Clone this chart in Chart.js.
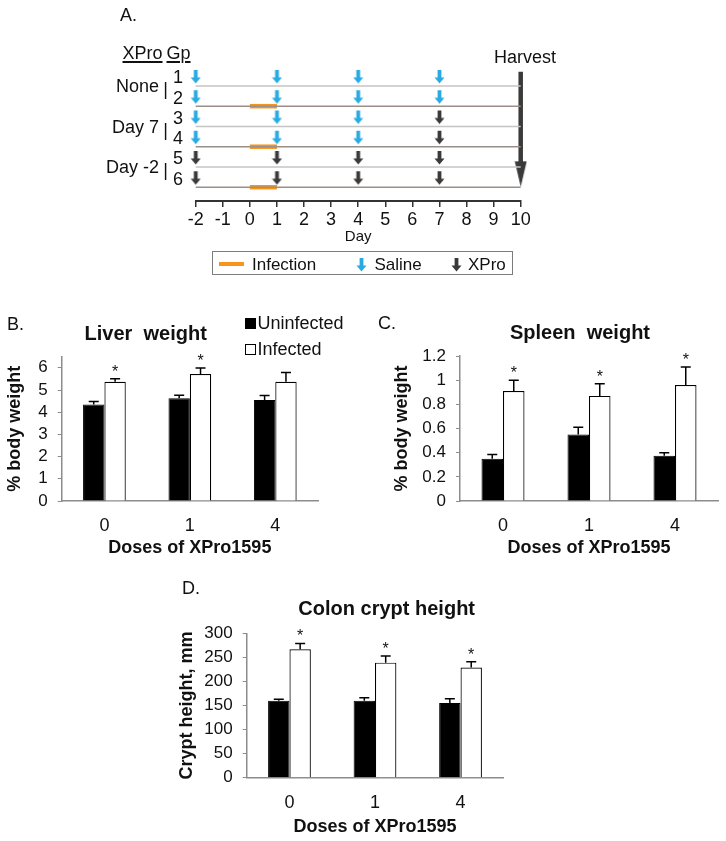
<!DOCTYPE html>
<html><head><meta charset="utf-8">
<script src="https://cdn.jsdelivr.net/npm/chart.js@4.4.1/dist/chart.umd.min.js"></script>
<style>
html,body{margin:0;padding:0;background:#fff;}
#wrap{position:relative;width:726px;height:841px;overflow:hidden;font-family:"Liberation Sans",Arial,Helvetica,sans-serif;color:#111;}
canvas{position:absolute;}
.t{position:absolute;white-space:pre;line-height:1;}
</style></head><body><div id="wrap">
<canvas id="cA" width="726" height="290" style="left:0;top:0;width:726px;height:290px"></canvas>
<canvas id="cB" width="370" height="260" style="left:0;top:300px;width:370px;height:260px"></canvas>
<canvas id="cC" width="356" height="260" style="left:370px;top:300px;width:356px;height:260px"></canvas>
<canvas id="cD" width="340" height="281" style="left:170px;top:560px;width:340px;height:281px"></canvas>
</div>
<script>
// ---------- DATA ----------
const dayTicks = [-2,-1,0,1,2,3,4,5,6,7,8,9,10];
const groupRows = ['1','2','3','4','5','6'];
const groupNames = ['None','Day 7','Day -2'];
const salineDays = [[-2,1,4,7],[-2,1,4,7],[-2,1,4],[-2,1,4],[],[]];
const xproDays   = [[],[],[7],[7],[-2,1,4,7],[-2,1,4,7]];
const infectedRows = [2,4,6];
const infectionPeriod = [0,1];
const harvestDay = 10;

const doses = ['0','1','4'];
const seriesNames = ['Uninfected','Infected'];

const liverUninfected    = [4.35, 4.63, 4.55];
const liverUninfectedErr = [0.13, 0.13, 0.20];
const liverInfected      = [5.37, 5.72, 5.37];
const liverInfectedErr   = [0.14, 0.27, 0.42];
const liverSignificant   = [true, true, false];

const spleenUninfected    = [0.35, 0.55, 0.375];
const spleenUninfectedErr = [0.035, 0.06, 0.025];
const spleenInfected      = [0.91, 0.87, 0.96];
const spleenInfectedErr   = [0.09, 0.10, 0.15];
const spleenSignificant   = [true, true, true];

const cryptUninfected    = [160, 160, 155];
const cryptUninfectedErr = [3, 6, 9];
const cryptInfected      = [267, 239, 229];
const cryptInfectedErr   = [12, 14, 12];
const cryptSignificant   = [true, true, true];

// ---------- helpers ----------
const FONT = '"Liberation Sans", Arial, Helvetica, sans-serif';
Chart.defaults.font.family = FONT;
Chart.defaults.color = '#111';
const wrap = document.getElementById('wrap');
function addText(text, x, y, o) {
  o = o || {};
  const d = document.createElement('div');
  d.className = 't';
  d.textContent = text;
  d.style.left = x + 'px';
  d.style.top = y + 'px';
  d.style.fontSize = (o.size || 18) + 'px';
  if (o.bold) d.style.fontWeight = 'bold';
  if (o.underline) { d.style.textDecoration = 'underline'; d.style.textDecorationThickness = '1.5px'; d.style.textUnderlineOffset = '2px'; }
  const tx = o.align === 'center' ? '-50%' : (o.align === 'right' ? '-100%' : '0');
  d.style.transform = 'translate(' + tx + ',-50%)';
  wrap.appendChild(d);
  return d;
}
function arrowCanvas(color) {
  const c = document.createElement('canvas'); c.width = 11; c.height = 34;
  const g = c.getContext('2d'); g.fillStyle = color;
  g.fillRect(3.6, 1, 3.8, 8);
  g.beginPath(); g.moveTo(0.5, 8.5); g.lineTo(10.5, 8.5); g.lineTo(5.5, 14.5); g.closePath(); g.fill();
  return c;
}
function headCanvas(color) {
  const c = document.createElement('canvas'); c.width = 13; c.height = 52;
  const g = c.getContext('2d'); g.fillStyle = color;
  g.beginPath(); g.moveTo(0.5, 0.5); g.lineTo(12.5, 0.5); g.lineTo(6.5, 26); g.closePath(); g.fill();
  return c;
}
const SALINE = '#29abe2', XPRO = '#3a3a3a', ORANGE = '#f7941d';

// ---------- Panel A ----------
const dsA = [];
groupRows.forEach((g, i) => {
  const r = i + 1;
  dsA.push({ data: [{x: dayTicks[0], y: r}, {x: harvestDay, y: r}], showLine: true,
    borderColor: (r % 2 === 0) ? '#9b8f8a' : '#c4c4c4', borderWidth: 1.4, pointRadius: 0, clip: false });
});
infectedRows.forEach(r => {
  dsA.push({ data: [{x: infectionPeriod[0], y: r}, {x: infectionPeriod[1], y: r}], showLine: true,
    borderColor: ORANGE, borderWidth: 4.5, borderCapStyle: 'butt', pointRadius: 0, clip: false });
});
const salinePts = [], xproPts = [];
salineDays.forEach((ds, i) => ds.forEach(d => salinePts.push({x: d, y: i + 1})));
xproDays.forEach((ds, i) => ds.forEach(d => xproPts.push({x: d, y: i + 1})));
dsA.push({ data: salinePts, pointStyle: arrowCanvas(SALINE), pointRadius: 6, showLine: false, clip: false });
dsA.push({ data: xproPts, pointStyle: arrowCanvas(XPRO), pointRadius: 6, showLine: false, clip: false });
dsA.push({ data: [{x: harvestDay, y: 0.297}, {x: harvestDay, y: 4.76}], showLine: true,
  borderColor: XPRO, borderWidth: 4.5, borderCapStyle: 'butt', pointRadius: 0, clip: false });
dsA.push({ data: [{x: harvestDay, y: 5.974}], pointStyle: headCanvas(XPRO), pointRadius: 6, showLine: false, clip: false });

const chartA = new Chart(document.getElementById('cA'), {
  type: 'scatter',
  data: { datasets: dsA },
  options: {
    responsive: false, animation: false, events: [], devicePixelRatio: 1,
    layout: { padding: { left: 195.7, right: 205.3, top: 60, bottom: 0 } },
    plugins: { legend: { display: false }, tooltip: { enabled: false } },
    scales: {
      x: { type: 'linear', min: dayTicks[0], max: dayTicks[dayTicks.length - 1],
        afterBuildTicks(s) { s.ticks = dayTicks.map(v => ({ value: v })); },
        ticks: { stepSize: 1, font: { size: 18 }, color: '#111', padding: 2 },
        grid: { drawOnChartArea: false, drawTicks: true, tickLength: 6, color: '#333', lineWidth: 1.5 },
        border: { color: '#333', width: 2 },
        title: { display: true, text: 'Day', font: { size: 15 }, color: '#111', padding: { top: 0, bottom: 43.7 } },
        afterFit(s) { s.height = 89; } },
      y: { type: 'linear', display: false, min: -0.28, max: 6.68, reverse: true }
    }
  }
});

// Panel A texts
addText('A.', 120, 15, { size: 18 });
addText('XPro', 122.5, 52.5, { size: 18, underline: true });
addText('Gp', 166.5, 52.5, { size: 18, underline: true });
addText('Harvest', 494, 57.3, { size: 18 });
const yA = chartA.scales.y;
groupRows.forEach((g, i) => addText(g, 178, yA.getPixelForValue(i + 1) - 8.5, { size: 18, align: 'center' }));
groupNames.forEach((n, k) => {
  const yy = yA.getPixelForValue(2 * k + 1) + 0.5;
  addText(n, 159, yy, { size: 18, align: 'right' });
  addText('|', 165.5, yy + 3, { size: 18, align: 'center' });
});
// legend box
const lg = document.createElement('div');
lg.style.cssText = 'position:absolute;left:212px;top:250.5px;width:299px;height:22.5px;border:1.5px solid #7d7d7d;';
wrap.appendChild(lg);
const ol = document.createElement('div');
ol.style.cssText = 'position:absolute;left:218.5px;top:262.3px;width:25.5px;height:4.2px;background:' + ORANGE + ';';
wrap.appendChild(ol);
addText('Infection', 252, 264, { size: 17 });
function legendArrow(color, x) {
  const c = arrowCanvas(color);
  c.style.left = (x - 5.5) + 'px'; c.style.top = (271.5 - 14.5) + 'px';
  c.style.width = '11px'; c.style.height = '34px';
  wrap.appendChild(c);
}
legendArrow(SALINE, 361.5);
addText('Saline', 374.5, 264, { size: 17 });
legendArrow(XPRO, 456);
addText('XPro', 468, 264, { size: 17 });

// ---------- Bar panels ----------
const errorBars = {
  id: 'errorBars',
  afterDatasetsDraw(chart) {
    const ctx = chart.ctx, y = chart.scales.y;
    ctx.save();
    ctx.strokeStyle = '#000'; ctx.lineWidth = 1.5; ctx.fillStyle = '#111';
    ctx.font = '16px ' + FONT; ctx.textAlign = 'center'; ctx.textBaseline = 'alphabetic';
    chart.data.datasets.forEach((ds, i) => {
      const meta = chart.getDatasetMeta(i);
      meta.data.forEach((bar, j) => {
        const v = ds.data[j], e = ds.errors[j];
        const top = y.getPixelForValue(v + e), base = y.getPixelForValue(v);
        ctx.beginPath();
        ctx.moveTo(bar.x, base); ctx.lineTo(bar.x, top);
        ctx.moveTo(bar.x - 5, top); ctx.lineTo(bar.x + 5, top);
        ctx.stroke();
        if (ds.sig && ds.sig[j]) ctx.fillText('*', bar.x, top - 2);
      });
    });
    ctx.restore();
  }
};
function barChart(id, p) {
  return new Chart(document.getElementById(id), {
    type: 'bar',
    data: { labels: doses, datasets: [
      { label: seriesNames[0], data: p.u, errors: p.ue, backgroundColor: '#000', borderColor: '#000', borderWidth: 1,
        categoryPercentage: 0.5, barPercentage: 1 },
      { label: seriesNames[1], data: p.i, errors: p.ie, sig: p.sig, backgroundColor: '#fff', borderColor: '#000', borderWidth: 1.2,
        categoryPercentage: 0.5, barPercentage: 1 }
    ]},
    options: {
      responsive: false, animation: false, events: [], devicePixelRatio: 1,
      layout: { padding: { left: 0, top: p.top, right: p.right, bottom: 0 } },
      plugins: { legend: { display: false }, tooltip: { enabled: false } },
      scales: {
        x: { grid: { display: false, drawTicks: false }, border: { color: '#8c8c8c', width: 1.5 },
          ticks: { font: { size: 18 }, color: '#111', padding: 14.5 },
          title: { display: true, text: 'Doses of XPro1595', color: '#111', font: { size: 18, weight: 'bold' }, padding: { top: 0, bottom: p.xtb } },
          afterFit(s) { s.height = p.xh; } },
        y: { min: 0, max: p.max,
          ticks: { stepSize: p.step, includeBounds: false, font: { size: 17 }, color: '#111', padding: 10,
            callback: v => String(Number(v.toFixed(2))) },
          grid: { drawOnChartArea: false, tickLength: 4, color: '#8c8c8c' },
          border: { color: '#8c8c8c', width: 1.5 },
          title: { display: true, text: p.ytitle, color: '#111', font: { size: 18, weight: 'bold' }, padding: { top: p.ytp, bottom: 0 } },
          afterFit(s) { s.width = p.left; } }
      }
    },
    plugins: [errorBars]
  });
}
barChart('cB', { u: liverUninfected, ue: liverUninfectedErr, i: liverInfected, ie: liverInfectedErr, sig: liverSignificant,
  max: 6.5, step: 1, ytitle: '% body weight', top: 56.7, right: 52, left: 61.7, xh: 59, xtb: 1.2, ytp: 4.5 });
barChart('cC', { u: spleenUninfected, ue: spleenUninfectedErr, i: spleenInfected, ie: spleenInfectedErr, sig: spleenSignificant,
  max: 1.2, step: 0.2, ytitle: '% body weight', top: 56, right: 8, left: 90, xh: 59, xtb: 1.2, ytp: 21 });
barChart('cD', { u: cryptUninfected, ue: cryptUninfectedErr, i: cryptInfected, ie: cryptInfectedErr, sig: cryptSignificant,
  max: 300, step: 50, ytitle: 'Crypt height, mm', top: 73.3, right: 6.7, left: 76.7, xh: 63.3, xtb: 3.5, ytp: 6.5 });

// bar panel texts
addText('B.', 7, 324, { size: 18 });
addText('Liver  weight', 145.7, 333, { size: 20, bold: true, align: 'center' });
addText('C.', 378, 323, { size: 18 });
addText('Spleen  weight', 580, 331.7, { size: 20, bold: true, align: 'center' });
addText('D.', 182, 588, { size: 18 });
addText('Colon crypt height', 386.7, 608.3, { size: 20, bold: true, align: 'center' });
// legend of panel B
const sq1 = document.createElement('div');
sq1.style.cssText = 'position:absolute;left:245px;top:318px;width:11px;height:11px;background:#000;';
wrap.appendChild(sq1);
const sq2 = document.createElement('div');
sq2.style.cssText = 'position:absolute;left:245px;top:343.5px;width:9px;height:9px;background:#fff;border:1.2px solid #000;';
wrap.appendChild(sq2);
addText(seriesNames[0], 257.5, 323, { size: 18 });
addText(seriesNames[1], 257.5, 348.5, { size: 18 });
</script></body></html>
